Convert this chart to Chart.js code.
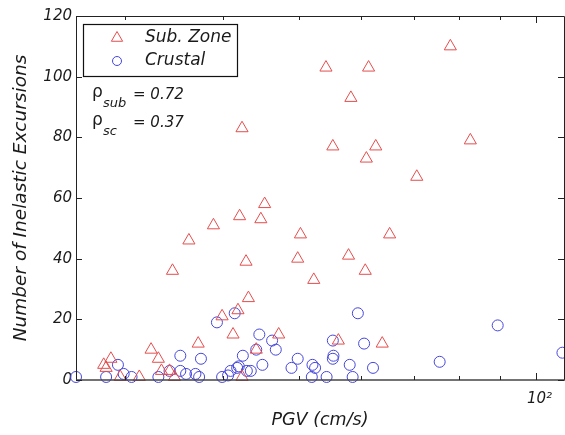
<!DOCTYPE html>
<html>
<head>
<meta charset="utf-8">
<script src="https://cdn.jsdelivr.net/npm/chart.js@4.4.1/dist/chart.umd.min.js"></script>
<style>
  body { margin: 0; background: #fff; }
  #wrap { width: 565px; height: 435px; }
</style>
</head>
<body>
<div id="wrap"><canvas id="excChart" width="565" height="435"></canvas></div>
<script>
// Sub. Zone records (PGV cm/s, number of inelastic excursions)
const subPgv = [77.9, 54.1, 61.3, 58.2, 55.2, 62.6, 60.9, 82.6, 70.6, 50.2, 65.2, 49.8, 57.8, 60.7, 52.2,
    47.1, 56.1, 63.8, 42.3, 45.2, 42.0, 44.7, 38.9, 36.2, 34.5, 42.8, 43.1, 39.9, 41.8, 41.2, 44.1, 37.2,
    32.4, 33.1, 28.8, 28.2, 28.4, 33.4, 34.2, 29.6, 31.3, 34.7, 42.3];
const subExc = [110, 103, 103, 93, 77, 77, 73, 79, 67, 48, 48, 40, 41, 36, 33,
    15, 13, 12, 83, 58, 54, 53, 51, 46, 36, 39, 27, 21, 23, 15, 10, 12,
    10, 7, 7, 5, 4, 3, 3, 1, 1, 1, 1];

// Crustal records
const crustPgv = [26.0, 28.4, 29.4, 29.9, 30.6, 33.1, 34.2, 35.3, 35.3, 35.9, 36.9, 37.3, 37.5, 39.3, 39.9,
    40.6, 40.9, 41.4, 41.7, 41.9, 42.4, 42.9, 43.4, 44.1, 44.5, 44.9, 46.2, 46.7, 48.9, 49.8, 52.0, 52.4,
    51.9, 59.4, 55.2, 60.5, 55.3, 55.2, 58.0, 62.1, 54.2, 58.5, 75.5, 89.5, 108.2];
const crustExc = [1, 1, 5, 2, 1, 1, 3, 3, 8, 2, 2, 1, 7, 19, 1,
    1.5, 3, 22, 4, 4.5, 8, 3, 3, 10, 15, 5, 13, 10, 4, 7, 5, 4,
    1, 22, 13, 12, 8, 7, 5, 4, 1, 1, 6, 18, 9];

const seriesLabels = ["Sub. Zone", "Crustal"];
const xTickValues = [30, 40, 50, 60, 70, 80, 90, 100];
const yTickValues = [0, 20, 40, 60, 80, 100, 120];
const rhoLines = [["sub", "= 0.72"], ["sc", "= 0.37"]];

const FONT = "DejaVu Sans";
const INK = "#1a1a1a";
const RED = "rgb(228,78,78)";
const BLUE = "rgb(70,70,220)";

const toPoints = (xs, ys) => xs.map((x, i) => ({ x: x, y: ys[i] }));

// box, inward ticks, legend and correlation text
const matlabAxes = {
    id: "matlabAxes",
    afterDraw(chart) {
        const ctx = chart.ctx;
        const a = chart.chartArea;
        const xs = chart.scales.x;
        const ys = chart.scales.y;
        ctx.save();
        ctx.strokeStyle = "#222";
        ctx.lineWidth = 1;
        ctx.beginPath();
        ctx.moveTo(a.left + 0.5, a.bottom);
        ctx.lineTo(a.left + 0.5, a.top + 0.5);
        ctx.lineTo(a.right + 0.5, a.top + 0.5);
        ctx.lineTo(a.right + 0.5, a.bottom);
        ctx.stroke();
        ctx.strokeStyle = "#444";
        ctx.lineWidth = 1.6;
        ctx.beginPath();
        ctx.moveTo(a.left, a.bottom);
        ctx.lineTo(a.right + 1, a.bottom);
        ctx.stroke();

        ctx.lineWidth = 1;
        ctx.strokeStyle = "#222";
        xTickValues.forEach(v => {
            const px = Math.round(xs.getPixelForValue(v)) + 0.5;
            const len = v === 100 ? 7 : 4;
            ctx.beginPath();
            ctx.moveTo(px, a.bottom);
            ctx.lineTo(px, a.bottom - len);
            ctx.moveTo(px, a.top);
            ctx.lineTo(px, a.top + len);
            ctx.stroke();
        });
        yTickValues.forEach(v => {
            const py = Math.round(ys.getPixelForValue(v)) + 0.5;
            ctx.beginPath();
            ctx.moveTo(a.left, py);
            ctx.lineTo(a.left + 6, py);
            ctx.moveTo(a.right, py);
            ctx.lineTo(a.right - 6, py);
            ctx.stroke();
        });

        // legend box
        const lx = a.left + 7, ly = a.top + 8, lw = 154, lh = 52;
        ctx.fillStyle = "#fff";
        ctx.fillRect(lx, ly, lw, lh);
        ctx.strokeStyle = "#111";
        ctx.lineWidth = 1.2;
        ctx.strokeRect(lx + 0.5, ly + 0.5, lw, lh);
        chart.data.datasets.forEach((ds, i) => {
            const my = ly + 14 + i * 23;
            ctx.strokeStyle = ds.borderColor;
            ctx.fillStyle = "rgba(0,0,0,0)";
            ctx.lineWidth = 1;
            Chart.helpers.drawPoint(ctx, {
                pointStyle: ds.pointStyle,
                radius: i === 0 ? 6.5 : 4.5,
                rotation: 0,
                borderWidth: 1
            }, lx + 34, my);
            ctx.fillStyle = INK;
            ctx.font = "italic 17px '" + FONT + "'";
            ctx.textBaseline = "middle";
            ctx.textAlign = "left";
            ctx.fillText(ds.label, lx + 62, my);
        });

        // correlation coefficients
        ctx.fillStyle = INK;
        ctx.textBaseline = "alphabetic";
        ctx.textAlign = "left";
        rhoLines.forEach((r, i) => {
            const by = 99 + i * 28;
            ctx.font = "17px '" + FONT + "'";
            ctx.fillText("\u03c1", a.left + 16, by - 2);
            ctx.font = "italic 13px '" + FONT + "'";
            ctx.fillText(r[0], a.left + 27, by + 8);
            ctx.font = "italic 15px '" + FONT + "'";
            ctx.fillText(r[1], a.left + 57, by);
        });
        ctx.restore();
    }
};

new Chart(document.getElementById("excChart"), {
    type: "scatter",
    data: {
        datasets: [
            {
                label: seriesLabels[0],
                data: toPoints(subPgv, subExc),
                pointStyle: "triangle",
                pointRadius: 7,
                pointHoverRadius: 7,
                borderColor: RED,
                backgroundColor: "rgba(0,0,0,0)",
                borderWidth: 1,
                clip: false
            },
            {
                label: seriesLabels[1],
                data: toPoints(crustPgv, crustExc),
                pointStyle: "circle",
                pointRadius: 5.5,
                pointHoverRadius: 5.5,
                borderColor: BLUE,
                backgroundColor: "rgba(0,0,0,0)",
                borderWidth: 1,
                clip: false
            }
        ]
    },
    options: {
        responsive: false,
        animation: false,
        // no extra room for the markers, the box goes to the right edge
        layout: { autoPadding: false, padding: { top: 16, right: 1, left: 0, bottom: 0 } },
        plugins: {
            legend: { display: false },
            tooltip: { enabled: false }
        },
        scales: {
            x: {
                type: "logarithmic",
                min: 26,
                max: 108.7,
                grid: { display: false, drawTicks: false },
                border: { display: false },
                afterBuildTicks: scale => { scale.ticks = xTickValues.map(v => ({ value: v })); },
                afterFit: scale => {
                    scale.height = 55;
                    scale.paddingLeft = 0;
                    scale.paddingRight = 0;
                },
                ticks: {
                    autoSkip: false,
                    maxRotation: 0,
                    padding: 10,
                    labelOffset: 4,
                    color: INK,
                    font: { family: FONT, style: "italic", size: 15 },
                    callback: v => (v === 100 ? "10\u00b2" : "")
                },
                title: {
                    display: true,
                    text: "PGV (cm/s)",
                    color: INK,
                    font: { family: FONT, style: "italic", size: 17.5 },
                    padding: { top: 0, bottom: 4 }
                }
            },
            y: {
                min: 0,
                max: 120,
                grid: { display: false, drawTicks: false },
                border: { display: false },
                afterBuildTicks: scale => { scale.ticks = yTickValues.map(v => ({ value: v })); },
                afterFit: scale => {
                    scale.width = 76;
                    scale.paddingTop = 0;
                    scale.paddingBottom = 0;
                },
                ticks: {
                    padding: 4,
                    color: INK,
                    font: { family: FONT, style: "italic", size: 15 }
                },
                title: {
                    display: true,
                    text: "Number of Inelastic Excursions",
                    color: INK,
                    font: { family: FONT, style: "italic", size: 18.5 },
                    padding: { top: 10, bottom: 0 }
                }
            }
        }
    },
    plugins: [matlabAxes]
});
</script>
</body>
</html>
